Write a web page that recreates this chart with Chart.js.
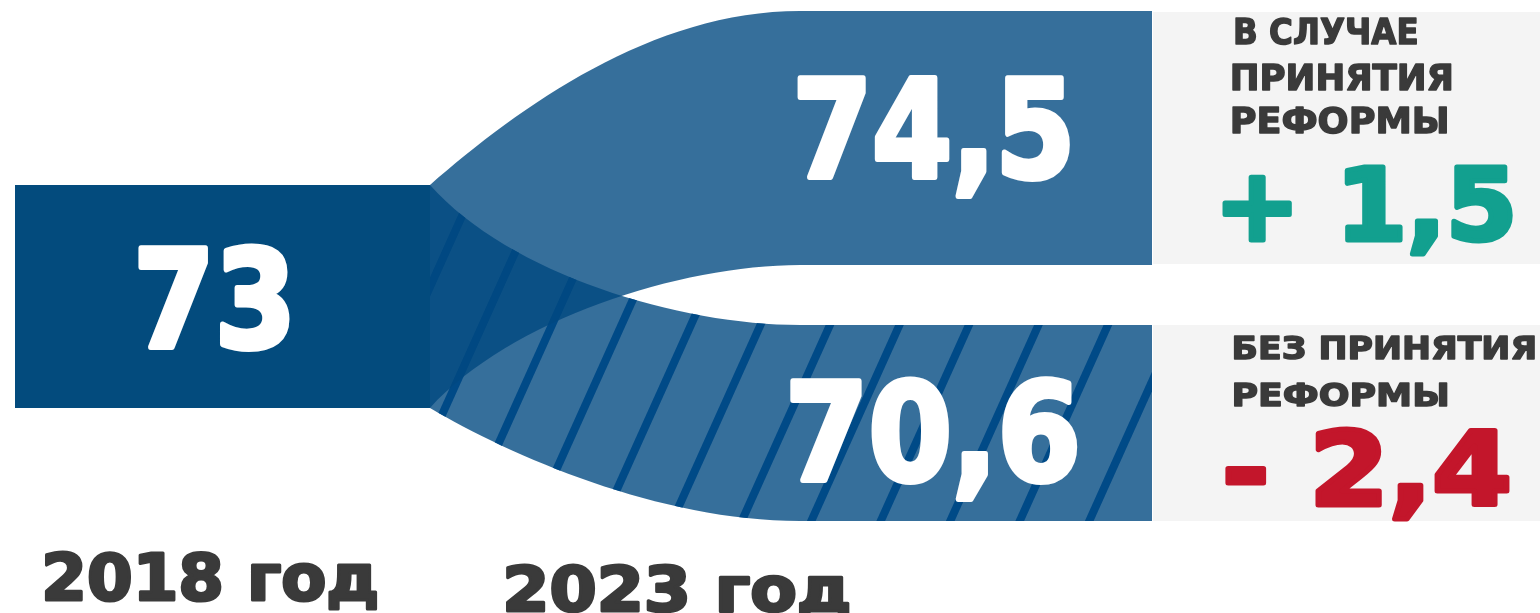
<!DOCTYPE html>
<html lang="ru">
<head>
<meta charset="utf-8">
<title>Ожидаемая продолжительность жизни</title>
<script src="https://cdn.jsdelivr.net/npm/chart.js@4.4.1/dist/chart.umd.min.js"></script>
<style>
  html, body { margin: 0; padding: 0; background: #fff; overflow: hidden; }
  #wrap { width: 1540px; height: 613px; }
</style>
</head>
<body>
<div id="wrap"><canvas id="lifeChart"></canvas></div>
<script>
// данные
const years = ['2018 год', '2023 год'];
const startValue = 73;
const scenarioNames = [['В СЛУЧАЕ', 'ПРИНЯТИЯ', 'РЕФОРМЫ'], ['БЕЗ ПРИНЯТИЯ', 'РЕФОРМЫ']];
const scenarioValues = [74.5, 70.6];
const scenarioDeltas = [1.5, -2.4];

// раскладка в единицах осей (x: 0..1540, y: 0..613 сверху вниз)
const layout = {
    startBar: { x0: 15, x1: 430, y0: 185, y1: 408 },
    flowEnd: 800,
    endX: 1152,
    bands: [
        { y0: 11, y1: 265, top: { c1: 0.243, k1: 0.45, c2: 0.6 }, bottom: { c1: 0.216, k1: 0.615, c2: 0.676 } },
        { y0: 325, y1: 521, top: { c1: 0.216, k1: 0.64, c2: 0.676 }, bottom: { c1: 0.216, k1: 0.42, c2: 0.62 } }
    ],
    boxX: [1153, 1540],
    boxY: [[12, 264], [325, 521]],
    stripes: { refX: 760, refY: 326, step: 69.5, slope: 0.45, width: 8 }
};

const colors = {
    dark: '#034b7d',
    flow: 'rgba(0, 72, 128, 0.79)',
    stripe: '#004a87',
    box: '#f4f4f4',
    label: '#3a3a3a',
    up: '#12a08f',
    down: '#c3162b'
};

function fmt(v) {
    return String(v).replace('.', ',');
}
function fmtDelta(v) {
    return (v > 0 ? '+ ' : '- ') + fmt(Math.abs(v));
}

// текст, вписанный по ширине "чернил" между x0 и x1, с утолщением обводкой
function inkText(ctx, str, x0, x1, baseline, font, color, lw) {
    lw = lw || 0;
    ctx.save();
    ctx.font = font;
    ctx.textAlign = 'left';
    ctx.textBaseline = 'alphabetic';
    const m = ctx.measureText(str);
    const ink = m.actualBoundingBoxLeft + m.actualBoundingBoxRight;
    const sx = (x1 - x0 - lw) / ink;
    ctx.translate(x0 + lw / 2, baseline - lw / 2);
    ctx.scale(sx, 1);
    ctx.fillStyle = color;
    ctx.fillText(str, m.actualBoundingBoxLeft, 0);
    if (lw) {
        ctx.strokeStyle = color;
        ctx.lineJoin = 'round';
        ctx.lineWidth = lw;
        ctx.strokeText(str, m.actualBoundingBoxLeft, 0);
    }
    ctx.restore();
}

const infographic = {
    id: 'infographic',
    afterDraw(chart) {
        const ctx = chart.ctx;
        const xs = chart.scales.x, ys = chart.scales.y;
        const X = v => xs.getPixelForValue(v);
        const Y = v => ys.getPixelForValue(v);
        const sb = layout.startBar;

        function curve(xa, ya, xb, yb, c, reverse) {
            const p1 = [xa + c.c1 * (xb - xa), ya + c.k1 * (yb - ya)];
            const p2 = [xa + c.c2 * (xb - xa), yb];
            if (!reverse) {
                ctx.bezierCurveTo(X(p1[0]), Y(p1[1]), X(p2[0]), Y(p2[1]), X(xb), Y(yb));
            } else {
                ctx.bezierCurveTo(X(p2[0]), Y(p2[1]), X(p1[0]), Y(p1[1]), X(xa), Y(ya));
            }
        }
        function bandPath(b) {
            ctx.beginPath();
            ctx.moveTo(X(sb.x1), Y(sb.y0));
            curve(sb.x1, sb.y0, layout.flowEnd, b.y0, b.top, false);
            ctx.lineTo(X(layout.endX), Y(b.y0));
            ctx.lineTo(X(layout.endX), Y(b.y1));
            ctx.lineTo(X(layout.flowEnd), Y(b.y1));
            curve(sb.x1, sb.y1, layout.flowEnd, b.y1, b.bottom, true);
            ctx.closePath();
        }

        ctx.save();
        // серые плашки
        ctx.fillStyle = colors.box;
        layout.boxY.forEach(r => {
            ctx.fillRect(X(layout.boxX[0]), Y(r[0]), X(layout.boxX[1]) - X(layout.boxX[0]), Y(r[1]) - Y(r[0]));
        });

        // 2018
        ctx.fillStyle = colors.dark;
        ctx.fillRect(X(sb.x0), Y(sb.y0), X(sb.x1) - X(sb.x0), Y(sb.y1) - Y(sb.y0));

        // без реформы + штриховка
        const lower = layout.bands[1];
        bandPath(lower);
        ctx.fillStyle = colors.flow;
        ctx.fill();
        ctx.save();
        bandPath(lower);
        ctx.clip();
        const st = layout.stripes;
        ctx.strokeStyle = colors.stripe;
        ctx.lineWidth = st.width;
        for (let k = -20; k <= 20; k++) {
            const xTop = st.refX + k * st.step + st.slope * (st.refY - 0);
            const xBot = st.refX + k * st.step + st.slope * (st.refY - 613);
            ctx.beginPath();
            ctx.moveTo(X(xTop), Y(0));
            ctx.lineTo(X(xBot), Y(613));
            ctx.stroke();
        }
        ctx.restore();

        // с реформой
        bandPath(layout.bands[0]);
        ctx.fillStyle = colors.flow;
        ctx.fill();

        // числа
        const big = 'bold 136px "DejaVu Sans"';
        inkText(ctx, fmt(startValue), X(138), X(290), Y(350), big, '#fff', 6);
        inkText(ctx, fmt(scenarioValues[0]), X(797), X(1071), Y(180), big, '#fff', 6);
        inkText(ctx, fmt(scenarioValues[1]), X(790), X(1078), Y(483), big, '#fff', 6);

        // подписи сценариев
        const lab1 = 'bold 36px "DejaVu Sans"';
        inkText(ctx, scenarioNames[0][0], X(1235), X(1417), Y(45), lab1, colors.label, 1.5);
        inkText(ctx, scenarioNames[0][1], X(1232), X(1452), Y(91), lab1, colors.label, 1.5);
        inkText(ctx, scenarioNames[0][2], X(1232), X(1447), Y(134), lab1, colors.label, 1.5);
        const lab2 = 'bold 32px "DejaVu Sans"';
        inkText(ctx, scenarioNames[1][0], X(1233), X(1535), Y(360), lab2, colors.label, 1.5);
        inkText(ctx, scenarioNames[1][1], X(1233), X(1448), Y(407), lab2, colors.label, 1.5);

        inkText(ctx, fmtDelta(scenarioDeltas[0]), X(1222), X(1513), Y(242), 'bold 100px "DejaVu Sans"', colors.up, 5);
        inkText(ctx, fmtDelta(scenarioDeltas[1]), X(1225), X(1510), Y(507), 'bold 102px "DejaVu Sans"', colors.down, 5);

        // годы
        inkText(ctx, years[0], X(45), X(378), Y(601), 'bold 64px "DejaVu Sans"', colors.label, 3);
        inkText(ctx, years[1], X(505), X(850), Y(612), 'bold 63px "DejaVu Sans"', colors.label, 3);
        ctx.restore();
    }
};

new Chart(document.getElementById('lifeChart'), {
    type: 'scatter',
    data: { datasets: [] },
    options: {
        responsive: true,
        maintainAspectRatio: false,
        animation: false,
        events: [],
        layout: { padding: 0 },
        plugins: { legend: { display: false }, tooltip: { enabled: false } },
        scales: {
            x: { type: 'linear', min: 0, max: 1540, display: false },
            y: { type: 'linear', min: 0, max: 613, reverse: true, display: false }
        }
    },
    plugins: [infographic]
});
</script>
</body>
</html>
